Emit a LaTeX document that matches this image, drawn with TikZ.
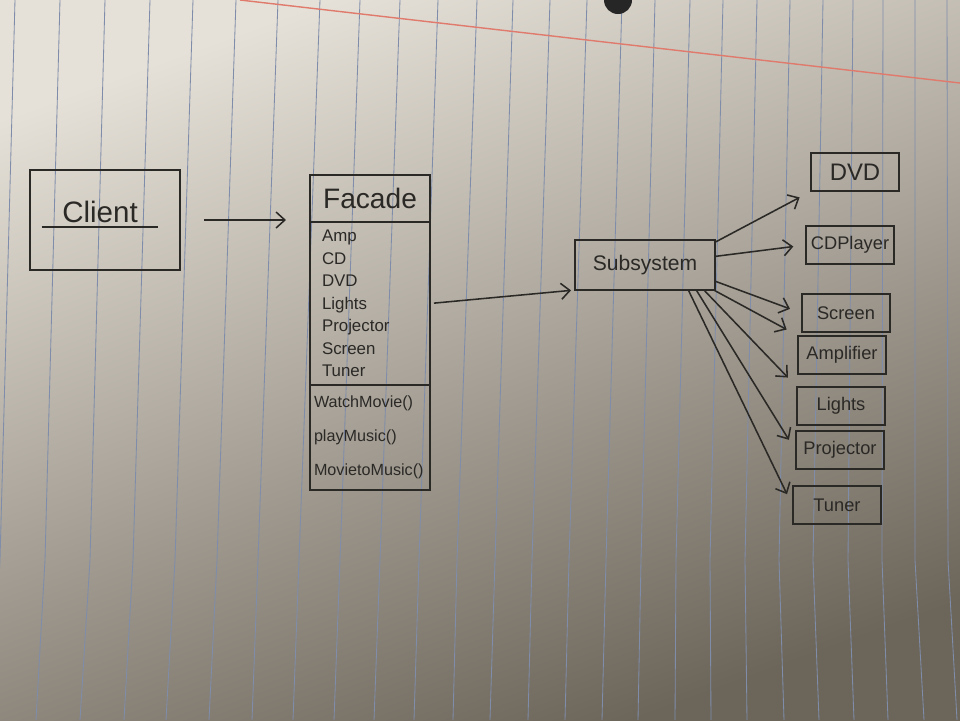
\documentclass[tikz,border=0pt]{standalone}
\usepackage{fontspec}
\setmainfont{Liberation Sans}
\usepackage{tikz}
\usetikzlibrary{positioning, arrows.meta, backgrounds}
\definecolor{ink}{HTML}{2B2926}
\definecolor{paperlight}{HTML}{E6E1D8}
\definecolor{papermid}{HTML}{BDB6AB}
\definecolor{paperdark}{HTML}{6C655A}
\definecolor{ruling}{HTML}{7F8DAA}
\definecolor{marginred}{HTML}{E07A6C}

\begin{document}
\begin{tikzpicture}[
  x=0.25mm, y=-0.25mm,
  every node/.style={text=ink},
  cls/.style={rectangle, draw=ink, line width=1.1pt, outer sep=0pt,
              minimum width=30mm},
  namebox/.style={cls, minimum height=11.75mm,
                  font=\fontsize{20}{24}\selectfont},
  attrbox/.style={cls, minimum height=40.75mm, align=left, text width=24mm,
                  font=\fontsize{12}{16}\selectfont},
  opbox/.style={cls, minimum height=26.25mm, align=left, text width=28mm,
                inner sep=1mm, font=\fontsize{11.5}{24}\selectfont},
  subbox/.style={rectangle, draw=ink, line width=1.1pt, minimum width=22mm,
                 minimum height=9.5mm, font=\fontsize{13}{15}\selectfont},
  arrow/.style={-{Straight Barb[length=2.2mm, width=4mm]}, draw=ink,
                line width=1.1pt},
  fan/.style={arrow, shorten >=3mm},
  ruled/.style={draw=ruling, line width=0.6pt},
]
\useasboundingbox (0,0) rectangle (960,720);

% Paper
\begin{scope}[on background layer]
  \clip (0,0) rectangle (960,720);
  \shade[top color=paperlight, middle color=papermid, bottom color=paperdark,
         shading angle=20] (0,0) rectangle (960,720);
  \foreach \xt/\xm/\xb in {15/0/-8, 60/45/36, 105/90/80, 150/133/124,
      193/175/166, 236/217/209, 278/258/252, 320/299/293, 360/340/334,
      400/380/374, 438/419/414, 477/457/453, 513/495/490, 550/532/528,
      587/569/565, 622/606/602, 655/641/638, 690/676/675, 723/710/711,
      757/745/747, 790/779/784, 823/813/819, 853/848/854, 883/882/888,
      915/915/924, 947/948/957}
    \draw[ruled] (\xt,0) -- (\xm,560) -- (\xb,720);
  \draw[marginred, line width=1pt] (240,0) -- (960,83);
  \fill[black!85] (618,0) circle (3.5mm);
\end{scope}

% Client
\node[cls, minimum width=37.5mm, minimum height=25mm] at (105,220) (client) {};
\node[anchor=south, minimum width=29mm, inner sep=3pt,
      font=\fontsize{21}{25}\selectfont] at (100,227) (client_name) {Client};
\draw[ink, line width=1.1pt] (client_name.south west) -- (client_name.south east);

% Facade class
\node[namebox] at (370,198.5) (facade_name) {Facade};
\node[attrbox, below=0pt of facade_name] (facade_attrs)
  {Amp\\CD\\DVD\\Lights\\Projector\\Screen\\Tuner};
\node[opbox, below=0pt of facade_attrs] (facade_ops)
  {WatchMovie()\\playMusic()\\MovietoMusic()};

% Subsystem
\node[cls, minimum width=35mm, minimum height=12.5mm,
      font=\fontsize{15}{18}\selectfont] at (645,265) (subsystem) {Subsystem};

% Subsystem classes
\node[subbox, font=\fontsize{17}{20}\selectfont] at (855,172) (dvd) {DVD};
\node[subbox] at (850,245) (cdplayer)  {CDPlayer};
\node[subbox] at (846,313) (screen)    {Screen};
\node[subbox] at (842,355) (amplifier) {Amplifier};
\node[subbox] at (841,406) (lights)    {Lights};
\node[subbox] at (840,450) (projector) {Projector};
\node[subbox] at (837,505) (tuner)     {Tuner};

% Arrows
\draw[arrow, shorten <=6mm, shorten >=6mm] (client.east) -- (client.east -| facade_name.west);
\draw[arrow, shorten <=1mm, shorten >=1mm] (facade_attrs.east) -- (subsystem.south west);

\draw[fan] (subsystem.18)  -- (dvd.south west);
\draw[fan] (subsystem.7)   -- (cdplayer.west);
\draw[fan] (subsystem.-13) -- (screen.west);
\draw[fan] (subsystem.-20) -- (amplifier.north west);
\draw[fan] (subsystem.-23) -- (lights.north west);
\draw[fan] (subsystem.-26) -- (projector.west);
\draw[fan] (subsystem.-30) -- (tuner.west);
\end{tikzpicture}
\end{document}
